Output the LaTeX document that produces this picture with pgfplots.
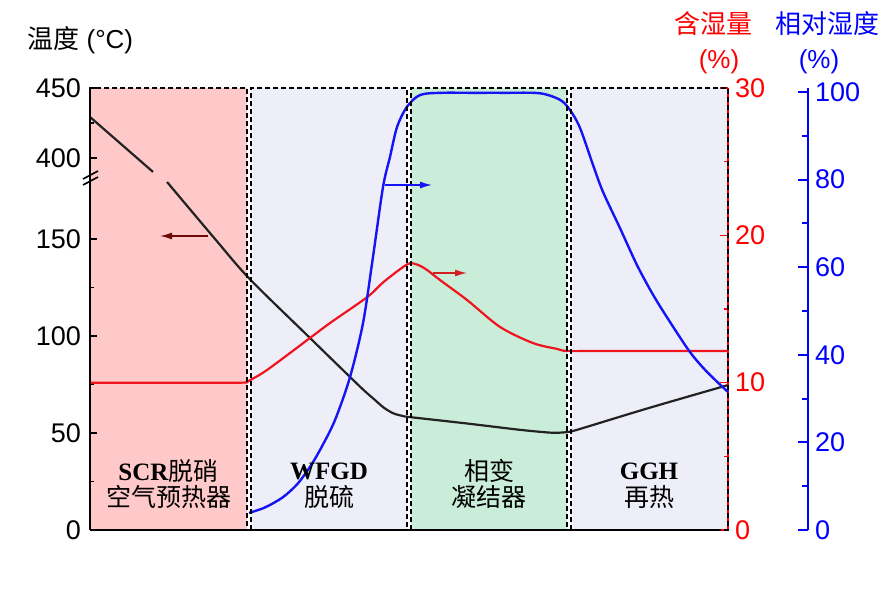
\documentclass[border=0pt]{standalone}
\usepackage{pgfplots}
\usepackage{pgfplotstable}
\pgfplotsset{compat=1.18}
\usetikzlibrary{arrows.meta}
\usepackage{fontspec}
\setmainfont{Liberation Sans}
\newfontfamily\tnr{Liberation Serif}
\newfontfamily\cjk{Noto Sans CJK SC}
\definecolor{zpink}{HTML}{FFC9C9}
\definecolor{zlav}{HTML}{EEEEF9}
\definecolor{zgreen}{HTML}{C9EDD9}
\definecolor{cred}{HTML}{F0141E}
\definecolor{cblue}{HTML}{1414F5}
\definecolor{cblack}{HTML}{222222}
\definecolor{axred}{HTML}{FF0000}
\definecolor{axblue}{HTML}{0000FF}
\definecolor{maroon}{HTML}{6A0A0A}
\definecolor{darkred}{HTML}{D02020}

\pgfplotstableread{
x T
0.000 429.3
0.295 400.0
0.395 357.0
}\blackA
\pgfplotstableread{
x T
0.483 326.0
0.784 150.0
1.000 129.5
1.379 99.0
1.630 78.9
1.720 71.8
1.780 67.5
1.840 63.2
1.900 60.2
1.960 58.8
2.006 58.2
2.364 54.9
2.700 51.6
2.884 50.2
2.950 50.2
3.000 50.6
3.060 51.8
3.500 62.8
4.000 74.7
}\blackB
\pgfplotstableread{
x W
0.000 10.00
0.500 10.00
0.940 10.00
0.984 10.05
1.000 10.15
1.110 10.86
1.379 13.03
1.505 14.05
1.737 15.80
1.837 16.80
1.950 17.75
2.006 18.10
2.060 17.98
2.113 17.65
2.194 16.97
2.364 15.61
2.571 13.78
2.777 12.69
2.928 12.29
2.991 12.15
3.200 12.15
4.000 12.15
}\redT
\pgfplotstableread{
x RH
0.997 3.9
1.100 5.2
1.210 7.5
1.300 10.5
1.379 14.4
1.450 18.8
1.536 25.1
1.630 34.9
1.712 47.3
1.774 62.3
1.837 78.3
1.881 85.2
1.925 92.0
1.987 96.6
2.069 99.3
2.200 99.8
2.400 99.8
2.600 99.8
2.820 99.7
2.947 98.2
3.009 95.9
3.072 91.8
3.154 83.3
3.216 77.2
3.323 68.9
3.429 60.5
3.530 53.7
3.636 47.5
3.762 40.6
3.868 36.1
4.000 31.5
}\blueT

\begin{document}
\begin{tikzpicture}
\useasboundingbox (0,0) rectangle (443pt,295pt);
% zone backgrounds
\begin{scope}[x=0.5pt,y=0.5pt]
\fill[zpink]  (90,60) rectangle (247,502);
\fill[zlav]   (251,60) rectangle (407,502);
\fill[zgreen] (411,60) rectangle (567,502);
\fill[zlav]   (571,60) rectangle (728,502);
\end{scope}

\begin{axis}[
  at={(45pt,30pt)}, anchor=south west, scale only axis,
  width=319pt, height=221pt,
  xmin=0, xmax=4, ymin=0, ymax=450,
  y coord trafo/.code={\pgfmathparse{(#1<=150)*(#1*1.94)+(#1>150)*(#1<400)*(291+(#1-150)*0.324)+(#1>=400)*(372+(#1-400)*1.4)}},
  axis x line*=bottom, axis y line*=left,
  xtick=\empty,
  ytick={0,50,100,150,400,450},
  yticklabels={0,50,100,150,400,450},
  minor ytick={25,75,125,425},
  tick align=inside,
  major tick length=3.5pt, minor tick length=2pt,
  every tick/.style={black, line width=0.8pt},
  axis line style={black, line width=1.2pt},
  yticklabel style={font=\fontsize{13.5}{15}\selectfont, xshift=-1pt},
  /pgf/number format/assume math mode=true,
  clip=false,
]
\addplot[cblack, line width=1.1pt, smooth, tension=0.5] table[x=x,y=T]{\blackA};
\addplot[cblack, line width=1.1pt, smooth, tension=0.5] table[x=x,y=T]{\blackB};
\end{axis}

\begin{axis}[
  at={(45pt,30pt)}, anchor=south west, scale only axis,
  width=319pt, height=221pt,
  xmin=0, xmax=4, ymin=0, ymax=30,
  hide x axis, axis y line*=right,
  ytick={0,10,20,30}, minor ytick={5,15,25},
  tick align=inside,
  major tick length=4pt, minor tick length=2pt,
  every tick/.style={axred, line width=0.8pt},
  axis line style={axred, line width=0.8pt},
  yticklabel style={axred, font=\fontsize{13.5}{15}\selectfont},
  /pgf/number format/assume math mode=true,
]
\addplot[cred, line width=1.1pt, smooth, tension=0.5] table[x=x,y=W]{\redT};
\end{axis}

\begin{axis}[
  at={(45pt,30pt)}, anchor=south west, scale only axis,
  width=359pt, height=221pt,
  xmin=0, xmax=4.5016, ymin=0, ymax=100.9,
  hide x axis, axis y line*=right,
  ytick={0,20,40,60,80,100}, minor ytick={10,30,50,70,90},
  tick align=inside,
  major tick length=5pt, minor tick length=3pt,
  every tick/.style={axblue, line width=1pt},
  axis line style={axblue, line width=1.2pt},
  yticklabel style={axblue, font=\fontsize{13.5}{15}\selectfont},
  /pgf/number format/assume math mode=true,
]
\addplot[cblue, line width=1.2pt, smooth, tension=0.5] table[x=x,y=RH]{\blueT};
\end{axis}

\begin{scope}[x=0.5pt,y=0.5pt]
% dashed zone borders
\begin{scope}[line width=0.8pt, dash pattern=on 2.5pt off 1.5pt]
\draw (90,60) rectangle (247,502);
\draw (251,60) rectangle (407,502);
\draw (411,60) rectangle (567,502);
\draw (571,60) rectangle (728,502);
\end{scope}

% axis break
\draw[black, line width=0.8pt] (83,405) -- (98,413);
\draw[black, line width=0.8pt] (83,411) -- (98,419);

% arrows
\draw[maroon, line width=0.7pt, -{Latex[length=6pt,width=3.5pt]}] (208,354) -- (160,354);
\draw[cblue, line width=0.7pt, -{Latex[length=6pt,width=3.5pt]}] (385,405) -- (432,405);
\draw[darkred, line width=0.7pt, -{Latex[length=6pt,width=3.5pt]}] (433,317) -- (467,317);

% zone labels
\begin{scope}[every node/.style={font=\fontsize{12.5}{15}\selectfont, inner sep=0pt}]
\node at (168.5,119) {{\tnr\bfseries SCR}{\cjk 脱硝}};
\node at (168.5,93) {\cjk 空气预热器};
\node at (329,119) {\tnr\bfseries WFGD};
\node at (329,93) {\cjk 脱硫};
\node at (489,119) {\cjk 相变};
\node at (489,93) {\cjk 凝结器};
\node at (649,119) {\tnr\bfseries GGH};
\node at (649,93) {\cjk 再热};
\end{scope}

% axis titles
\begin{scope}[every node/.style={font=\fontsize{13}{15}\selectfont, inner sep=0pt}]
\node[anchor=west] at (27,550) {{\cjk 温度}\ (°C)};
\node[axred] at (713,566) {\cjk 含湿量};
\node[axred] at (719,528) {(\%)};
\node[axblue] at (827,566) {\cjk 相对湿度};
\node[axblue] at (819,528) {(\%)};
\end{scope}
\end{scope}
\end{tikzpicture}
\end{document}
